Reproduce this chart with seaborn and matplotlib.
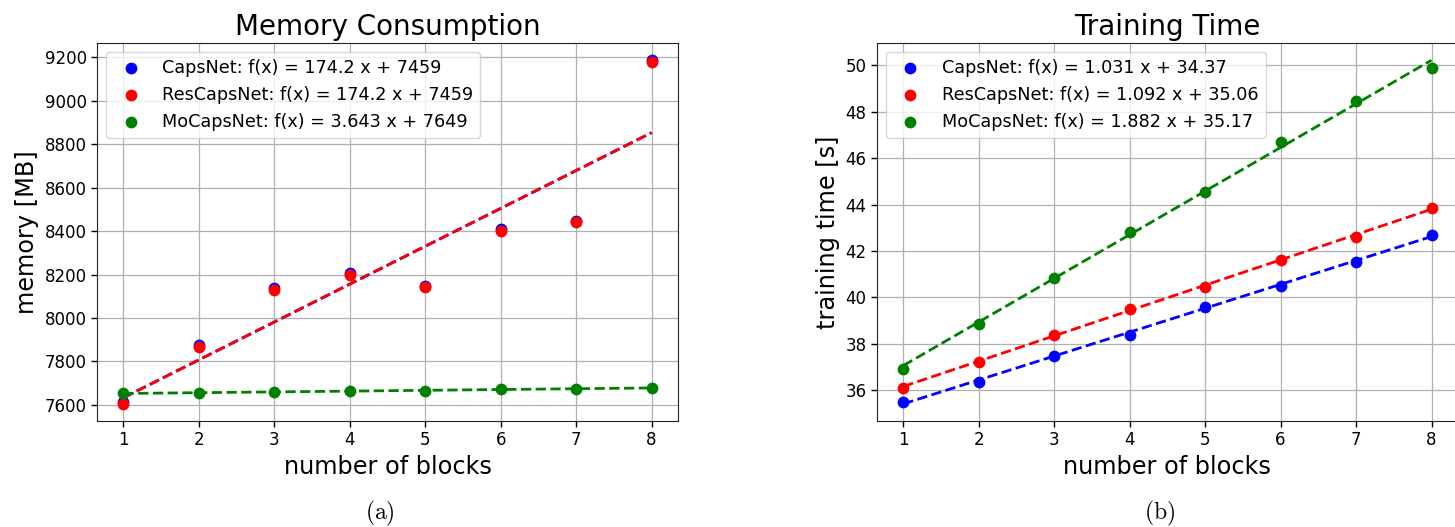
import numpy as np
import matplotlib
matplotlib.use("Agg")
import matplotlib.pyplot as plt
import seaborn as sns

# Data
blocks = [1, 2, 3, 4, 5, 6, 7, 8]
models = ["CapsNet", "ResCapsNet", "MoCapsNet"]
colors = ["blue", "red", "green"]

mem_caps = [7612, 7875, 8137, 8206, 8149, 8409, 8448, 9186]
mem_res = [7605, 7868, 8129, 8198, 8141, 8400, 8440, 9177]
mem_mo = [7655, 7657, 7660, 7663, 7666, 7671, 7674, 7678]
mem_slope = ["174.2", "174.2", "3.643"]
mem_icpt = ["7459", "7459", "7649"]

time_caps = [35.46, 36.35, 37.48, 38.36, 39.59, 40.48, 41.53, 42.68]
time_res = [36.10, 37.22, 38.38, 39.49, 40.45, 41.61, 42.59, 43.83]
time_mo = [36.91, 38.84, 40.85, 42.80, 44.54, 46.71, 48.48, 49.90]
time_slope = ["1.031", "1.092", "1.882"]
time_icpt = ["34.37", "35.06", "35.17"]

plt.rcParams["mathtext.fontset"] = "cm"

fig = plt.figure(figsize=(14.55, 5.27), dpi=100)
ax1 = fig.add_axes([0.0667, 0.2011, 0.3993, 0.7173])
ax2 = fig.add_axes([0.6027, 0.2011, 0.3993, 0.7173])


def draw(ax, series, slopes, icpts):
    x = np.array(blocks)
    for name, ys, c, m, b in zip(models, series, colors, slopes, icpts):
        label = f"{name}: f(x) = {m} x + {b}"
        sns.scatterplot(x=blocks, y=ys, color=c, s=72, linewidth=0,
                        label=label, ax=ax, zorder=3)
        # fitted line
        sns.lineplot(x=blocks, y=float(m) * x + float(b), color=c,
                     linestyle="--", linewidth=2, ax=ax, zorder=3)
    ax.grid(True, color="#b0b0b0", linewidth=0.9)
    ax.set_axisbelow(True)
    ax.set_xticks(blocks)
    ax.tick_params(labelsize=12, width=1, length=4)
    ax.set_xlabel("number of blocks", fontsize=17.3)
    ax.legend(loc="upper left", fontsize=12.7)
    for s in ax.spines.values():
        s.set_color("#222222")


draw(ax1, [mem_caps, mem_res, mem_mo], mem_slope, mem_icpt)
draw(ax2, [time_caps, time_res, time_mo], time_slope, time_icpt)

ax1.set_title("Memory Consumption", fontsize=20)
ax1.set_ylabel("memory [MB]", fontsize=17.3)
ax1.set_yticks(range(7600, 9201, 200))

ax2.set_title("Training Time", fontsize=20)
ax2.set_ylabel("training time [s]", fontsize=17.3)
ax2.set_yticks(range(36, 51, 2))

fig.text(380 / 1455, 1 - 513 / 527, r"$\mathrm{(a)}$", fontsize=17, ha="center", va="center")
fig.text(1160 / 1455, 1 - 513 / 527, r"$\mathrm{(b)}$", fontsize=17, ha="center", va="center")

fig.savefig("out.png", dpi=100)
